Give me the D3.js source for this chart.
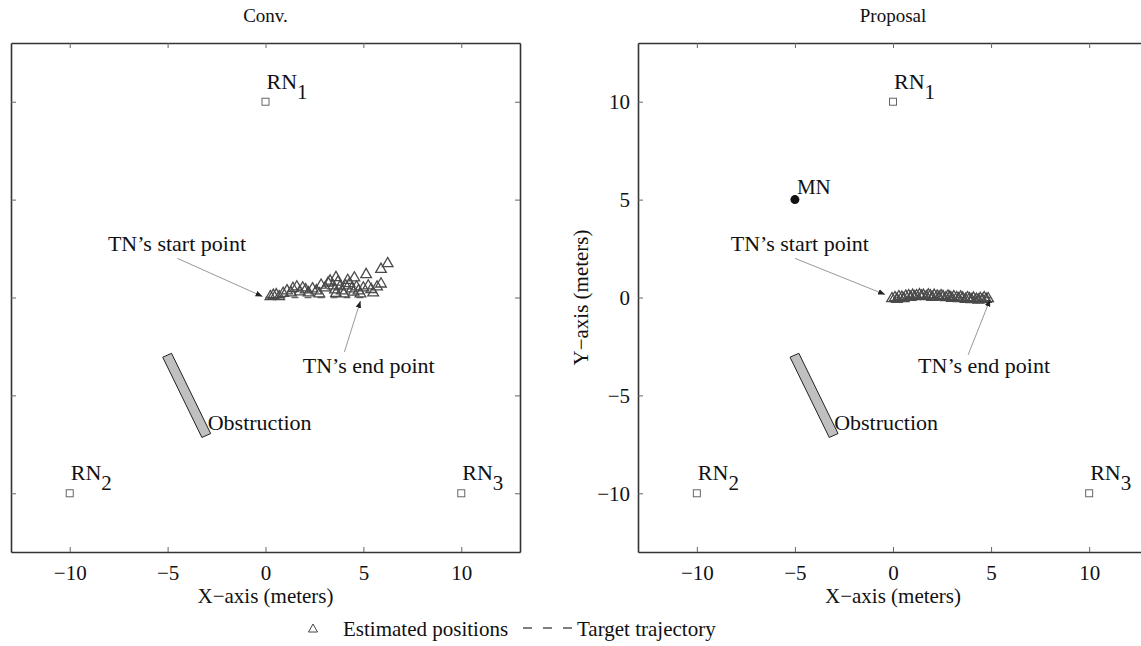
<!DOCTYPE html>
<html>
<head>
<meta charset="utf-8">
<script src="https://cdn.jsdelivr.net/npm/d3@7"></script>
<style>
  body { margin: 0; background: #fff; }
</style>
</head>
<body>
<svg id="chart" width="1141" height="646"></svg>
<script>
// reference nodes and obstruction (meters)
var refNodes = [
  { name: "RN", sub: "1", x: 0, y: 10 },
  { name: "RN", sub: "2", x: -10, y: -10 },
  { name: "RN", sub: "3", x: 10, y: -10 }
];
var mobileNode = [-5, 5];
var obstruction = [[-5.25, -3.05], [-4.8, -2.85], [-2.8, -6.95], [-3.25, -7.15]];
var trajectory = [[0, 0], [5, 0]];
var ticks = [-10, -5, 0, 5, 10];

// estimated TN positions, conventional method
var convEstimates = [
  [0.25, 0.05], [0.4, 0.12], [0.55, 0.15], [0.7, 0.05], [0.9, 0.22], [1.1, 0.35],
  [1.3, 0.25], [1.4, 0.47], [1.6, 0.55], [1.75, 0.3], [1.9, 0.5], [2.05, 0.4],
  [2.2, 0.25], [2.4, 0.45], [2.6, 0.35], [2.84, 0.64], [2.75, 0.2], [3.05, 0.5],
  [3.2, 0.75], [3.3, 0.85], [3.6, 1.03], [3.45, 0.6], [3.55, 0.4], [3.6, 0.22],
  [3.7, 0.8], [3.8, 0.55], [3.9, 0.35], [4.0, 0.2], [4.1, 0.6], [4.2, 0.88],
  [4.3, 0.72], [4.4, 0.45], [4.5, 0.28], [4.54, 1.01], [4.65, 0.55], [4.75, 0.35],
  [4.85, 0.2], [5.0, 0.5], [5.14, 1.18], [5.25, 0.6], [5.4, 0.42], [5.5, 0.25],
  [5.7, 0.55], [5.9, 0.7], [5.9, 1.45], [6.24, 1.74]
];
// estimated TN positions, proposed method
var propEstimates = [
  [-0.05, -0.05], [0.1, 0.0], [0.2, -0.08], [0.3, 0.05], [0.45, 0.02], [0.55, -0.05],
  [0.65, 0.08], [0.8, 0.1], [0.9, 0.02], [1.0, 0.12], [1.1, 0.05], [1.2, 0.1],
  [1.35, 0.15], [1.45, 0.08], [1.55, 0.12], [1.7, 0.05], [1.8, 0.14], [1.9, 0.1],
  [2.0, 0.02], [2.1, 0.12], [2.25, 0.08], [2.35, 0.03], [2.45, 0.1], [2.55, 0.06],
  [2.7, 0.0], [2.8, 0.08], [2.9, 0.03], [3.0, -0.03], [3.1, 0.05], [3.25, 0.0],
  [3.35, -0.05], [3.45, 0.03], [3.55, -0.02], [3.7, -0.08], [3.8, 0.0], [3.9, -0.05],
  [4.0, -0.1], [4.1, -0.02], [4.25, -0.08], [4.35, -0.12], [4.45, -0.04], [4.55, -0.1],
  [4.65, 0.0], [4.75, -0.08], [4.85, -0.05]
];

// annotations: text anchor, leader line from / to
var convNotes = [
  { text: "TN\u2019s start point", at: [-8.05, 2.35], from: [-4.5, 2.0], to: [-0.15, 0.05] },
  { text: "TN\u2019s end point", at: [1.9, -3.85], from: [4.03, -2.78], to: [4.85, -0.18] },
  { text: "Obstruction", at: [-2.95, -6.75] }
];
var propNotes = [
  { text: "TN\u2019s start point", at: [-8.27, 2.35], from: [-5.0, 2.0], to: [-0.4, 0.15] },
  { text: "TN\u2019s end point", at: [1.28, -3.85], from: [3.83, -2.93], to: [4.95, -0.1] },
  { text: "Obstruction", at: [-3.0, -6.75] }
];

var serif = "'Liberation Serif', 'Times New Roman', Tinos, 'DejaVu Serif', serif";
var svg = d3.select("#chart").style("font-family", serif);

svg.append("defs").append("marker")
    .attr("id", "arrow")
    .attr("viewBox", "0 0 10 10")
    .attr("refX", 10).attr("refY", 5)
    .attr("markerWidth", 7).attr("markerHeight", 7)
    .attr("markerUnits", "userSpaceOnUse")
    .attr("orient", "auto")
  .append("path")
    .attr("d", "M0,1L10,5L0,9Z")
    .attr("fill", "#222");

var triangle = "M0,-6L5.3,3.2L-5.3,3.2Z";

drawPanel({ left: 11, right: 520, title: "Conv.", estimates: convEstimates, notes: convNotes, mn: false, yLabels: false });
drawPanel({ left: 638, right: 1148, title: "Proposal", estimates: propEstimates, notes: propNotes, mn: true, yLabels: true });

function drawPanel(p) {
  var x = d3.scaleLinear().domain([-13, 13]).range([p.left, p.right]),
      y = d3.scaleLinear().domain([-13, 13]).range([552, 43]),
      g = svg.append("g").attr("class", "panel");

  var fmt = d3.format("");

  g.append("g").attr("transform", "translate(0,552)")
    .call(d3.axisBottom(x).tickValues(ticks).tickSizeInner(-5).tickSizeOuter(0).tickPadding(13).tickFormat(fmt));
  g.append("g").attr("transform", "translate(0,43)")
    .call(d3.axisTop(x).tickValues(ticks).tickSizeInner(-5).tickSizeOuter(0).tickFormat(""));
  g.append("g").attr("transform", "translate(" + p.left + ",0)")
    .call(d3.axisLeft(y).tickValues(ticks).tickSizeInner(-5).tickSizeOuter(0).tickPadding(8)
      .tickFormat(p.yLabels ? fmt : ""));
  g.append("g").attr("transform", "translate(" + p.right + ",0)")
    .call(d3.axisRight(y).tickValues(ticks).tickSizeInner(-5).tickSizeOuter(0).tickFormat(""));

  g.selectAll("g").attr("font-family", null);
  g.selectAll(".domain").attr("stroke", "#333").attr("stroke-width", 1.6);
  g.selectAll(".tick line").attr("stroke", "#666").attr("stroke-width", 1);
  g.selectAll(".tick text").style("font-size", "21px").style("font-family", serif).attr("fill", "#111");

  var cx = (p.left + p.right) / 2;
  if (p.right > 1141) cx = x(0);

  g.append("text").attr("x", cx).attr("y", 22).attr("text-anchor", "middle")
    .style("font-size", "19px").text(p.title);
  g.append("text").attr("x", cx).attr("y", 603).attr("text-anchor", "middle")
    .style("font-size", "21px").text("X\u2212axis (meters)");
  if (p.yLabels) {
    g.append("text")
      .attr("transform", "translate(" + (p.left - 50) + "," + y(0) + ") rotate(-90)")
      .attr("text-anchor", "middle")
      .style("font-size", "21px").text("Y\u2212axis (meters)");
  }

  // obstruction bar
  g.append("path")
    .datum(obstruction)
    .attr("d", d3.line().x(function(d) { return x(d[0]); }).y(function(d) { return y(d[1]); }).curve(d3.curveLinearClosed))
    .attr("fill", "#c0c0c0").attr("stroke", "#222").attr("stroke-width", 1);

  // reference nodes
  var rn = g.selectAll("g.rn").data(refNodes).enter().append("g").attr("class", "rn");
  rn.append("rect")
    .attr("x", function(d) { return x(d.x) - 3.5; })
    .attr("y", function(d) { return y(d.y) - 3.5; })
    .attr("width", 7).attr("height", 7)
    .attr("fill", "none").attr("stroke", "#666").attr("stroke-width", 1);
  var lbl = rn.append("text")
    .attr("x", function(d) { return x(d.x) + 1; })
    .attr("y", function(d) { return y(d.y) - 13; })
    .style("font-size", "22px");
  lbl.append("tspan").text(function(d) { return d.name; });
  lbl.append("tspan").attr("dy", 10).style("font-size", "21px").text(function(d) { return d.sub; });

  if (p.mn) {
    g.append("circle").attr("cx", x(mobileNode[0])).attr("cy", y(mobileNode[1])).attr("r", 4.5).attr("fill", "#111");
    g.append("text").attr("x", x(mobileNode[0]) + 2).attr("y", y(mobileNode[1]) - 6)
      .style("font-size", "21px").text("MN");
  }

  // target trajectory
  g.append("line")
    .attr("x1", x(trajectory[0][0])).attr("y1", y(trajectory[0][1]))
    .attr("x2", x(trajectory[1][0])).attr("y2", y(trajectory[1][1]))
    .attr("stroke", "#666").attr("stroke-width", 1.4).attr("stroke-dasharray", "7,6");

  // estimated positions
  g.selectAll("path.est").data(p.estimates).enter().append("path")
    .attr("class", "est")
    .attr("d", triangle)
    .attr("transform", function(d) { return "translate(" + x(d[0]) + "," + y(d[1]) + ")"; })
    .attr("fill", "none").attr("stroke", "#4a4a4a").attr("stroke-width", 1.3);

  // annotations
  p.notes.forEach(function(n) {
    if (n.from) {
      g.append("line")
        .attr("x1", x(n.from[0])).attr("y1", y(n.from[1]))
        .attr("x2", x(n.to[0])).attr("y2", y(n.to[1]))
        .attr("stroke", "#999").attr("stroke-width", 1)
        .attr("marker-end", "url(#arrow)");
    }
    g.append("text").attr("x", x(n.at[0])).attr("y", y(n.at[1]))
      .style("font-size", "22px").text(n.text);
  });
}

// legend
var legend = svg.append("g").attr("class", "legend");
legend.append("path").attr("d", "M0,-5L4.5,3L-4.5,3Z").attr("transform", "translate(313,629)")
  .attr("fill", "none").attr("stroke", "#444").attr("stroke-width", 1);
legend.append("text").attr("x", 343).attr("y", 636).style("font-size", "21px").text("Estimated positions");
legend.append("line").attr("x1", 523).attr("x2", 572).attr("y1", 628).attr("y2", 628)
  .attr("stroke", "#555").attr("stroke-width", 1.3).attr("stroke-dasharray", "9,11");
legend.append("text").attr("x", 577).attr("y", 636).style("font-size", "21px").text("Target trajectory");

svg.selectAll("text").attr("fill", "#111");
</script>
</body>
</html>
